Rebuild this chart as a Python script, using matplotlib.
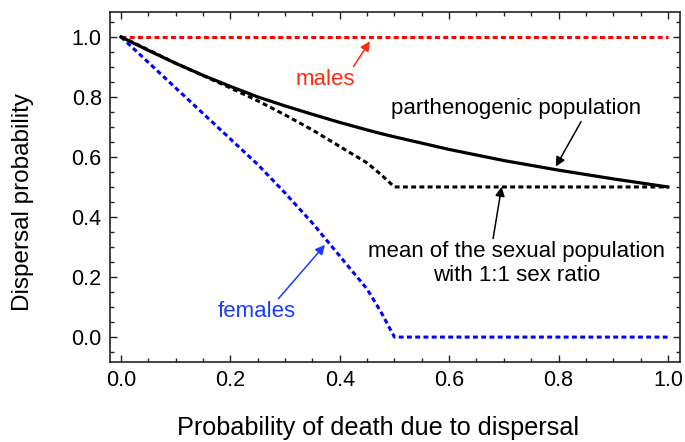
import matplotlib
matplotlib.use('Agg')
import matplotlib.pyplot as plt
import numpy as np
from matplotlib.ticker import MultipleLocator

plt.rcParams['font.family'] = ['Liberation Sans', 'DejaVu Sans']

# Data
x_curve = [0.0, 0.05, 0.1, 0.15, 0.2, 0.25, 0.3, 0.35, 0.4, 0.45, 0.475, 0.5,
           0.6, 0.7, 0.8, 0.9, 1.0]
parthenogenic = [1.0, 0.955, 0.912, 0.872, 0.835, 0.8, 0.77, 0.742, 0.715, 0.69,
                 0.678, 0.667, 0.625, 0.588, 0.556, 0.527, 0.5]
females = [1.0, 0.915, 0.83, 0.745, 0.66, 0.575, 0.48, 0.38, 0.27, 0.16,
           0.085, 0.0, 0.0, 0.0, 0.0, 0.0, 0.0]
sexual_mean = [1.0, 0.957, 0.912, 0.871, 0.83, 0.787, 0.74, 0.69, 0.635, 0.58,
               0.542, 0.5, 0.5, 0.5, 0.5, 0.5, 0.5]
x_males = [0.0, 1.0]
males = [1.0, 1.0]

fig = plt.figure(figsize=(6.85, 4.42), dpi=100)
ax = fig.add_axes([0.1606, 0.181, 0.832, 0.792])

dots = (1.6, 1.1)
ax.plot(x_males, males, color='#ff0000', lw=2.2, dashes=dots)
ax.plot(x_curve, females, color='#0000ff', lw=2.2, dashes=dots)
ax.plot(x_curve, sexual_mean, color='black', lw=2.2, dashes=dots)
ax.plot(x_curve, parthenogenic, color='black', lw=2.3)

arr = dict(arrowstyle='-|>', lw=1.1, mutation_scale=14, shrinkA=0, shrinkB=0)
ax.annotate('males', xy=(0.455, 0.985), xytext=(0.373, 0.857), color='#ff2a10',
            fontsize=16, ha='center', va='center',
            arrowprops=dict(arr, color='#ff2a10', relpos=(0.95, 1.0)))
ax.annotate('parthenogenic population', xy=(0.795, 0.568), xytext=(0.723, 0.762),
            fontsize=16, ha='center', va='center',
            arrowprops=dict(arr, color='black', relpos=(0.765, 0.0)))
ax.annotate('mean of the sexual population\nwith 1:1 sex ratio', xy=(0.696, 0.501),
            xytext=(0.723, 0.245), fontsize=16, ha='center', va='center',
            linespacing=1.15,
            arrowprops=dict(arr, color='black', relpos=(0.42, 1.0)))
ax.annotate('females', xy=(0.373, 0.307), xytext=(0.248, 0.084), color='#1a3cff',
            fontsize=16, ha='center', va='center',
            arrowprops=dict(arr, color='#1a3cff', relpos=(0.75, 1.0)))

ax.set_xlim(-0.02, 1.022)
ax.set_ylim(-0.083, 1.083)
ax.xaxis.set_major_locator(MultipleLocator(0.2))
ax.xaxis.set_minor_locator(MultipleLocator(0.05))
ax.yaxis.set_major_locator(MultipleLocator(0.2))
ax.yaxis.set_minor_locator(MultipleLocator(0.05))
ax.xaxis.set_major_formatter(plt.FormatStrFormatter('%.1f'))
ax.yaxis.set_major_formatter(plt.FormatStrFormatter('%.1f'))
ax.tick_params(which='both', direction='in', top=True, right=True, labelsize=15.5,
               color='#222222', width=1.0)
ax.tick_params(which='major', length=5, pad=6)
ax.tick_params(which='minor', length=3)
for s in ax.spines.values():
    s.set_linewidth(1.2)
    s.set_color('#222222')

ax.set_xlabel('Probability of death due to dispersal', fontsize=18.2, labelpad=18, x=0.47)
ax.set_ylabel('Dispersal probability', fontsize=17.5, labelpad=27, y=0.457)

fig.savefig('out.png', dpi=100)
